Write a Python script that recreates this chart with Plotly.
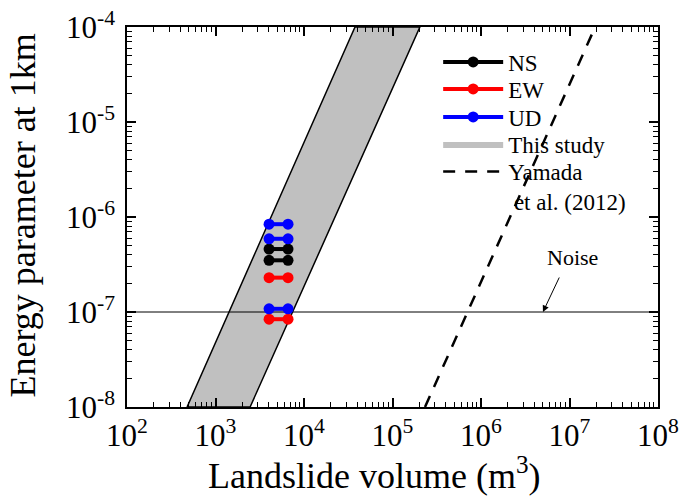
import plotly.graph_objects as go

# --- data ---
pair_x = [4030, 6600]
ns_values = [4.6e-7, 3.5e-7]
ew_values = [2.3e-7, 8.4e-8]
ud_values = [8.4e-7, 5.9e-7, 1.08e-7]

band_x = [477, 37700, 204000, 2460, 477]
band_y = [1e-8, 1e-4, 1e-4, 1e-8, 1e-8]

yamada_x = [2.33e5, 1.95e7]
yamada_y = [1e-8, 1e-4]

noise_level = 1e-7
x_range = [1e2, 1e8]

xtick_vals = [1e2, 1e3, 1e4, 1e5, 1e6, 1e7, 1e8]
xtick_text = ["10<sup>2</sup>", "10<sup>3</sup>", "10<sup>4</sup>", "10<sup>5</sup>",
              "10<sup>6</sup>", "10<sup>7</sup>", "10<sup>8</sup>"]
ytick_vals = [1e-8, 1e-7, 1e-6, 1e-5, 1e-4]
ytick_text = ["10<sup>-8</sup>", "10<sup>-7</sup>", "10<sup>-6</sup>", "10<sup>-5</sup>", "10<sup>-4</sup>"]

x_minor = [k * 10.0 ** e for e in range(2, 8) for k in range(2, 10)]
y_minor = [k * 10.0 ** e for e in range(-8, -4) for k in range(2, 10)]

FONT = "Liberation Serif, Times New Roman, serif"

fig = go.Figure()

# shaded band (This study)
fig.add_trace(go.Scatter(x=band_x, y=band_y, mode="lines", fill="toself",
                         fillcolor="#c0c0c0", line=dict(color="black", width=1.5),
                         name="This study", showlegend=False, hoverinfo="skip"))

# noise line
fig.add_trace(go.Scatter(x=x_range, y=[noise_level, noise_level], mode="lines",
                         line=dict(color="black", width=1), showlegend=False))

def add_pairs(values, color, name, legend_id):
    for i, v in enumerate(values):
        fig.add_trace(go.Scatter(x=pair_x, y=[v, v], mode="lines+markers",
                                 line=dict(color=color, width=4),
                                 marker=dict(color=color, size=11),
                                 name=name, legendgroup=name, legend=legend_id,
                                 showlegend=(i == 0)))

add_pairs(ns_values, "black", "NS", "legend")
add_pairs(ew_values, "red", "EW", "legend2")
add_pairs(ud_values, "blue", "UD", "legend3")

# legend entry for band
fig.add_trace(go.Scatter(x=[None], y=[None], mode="lines", fill="toself",
                         fillcolor="#c0c0c0", line=dict(color="#c0c0c0", width=0),
                         name="This study", legend="legend4"))

# Yamada et al. line
fig.add_trace(go.Scatter(x=yamada_x, y=yamada_y, mode="lines",
                         line=dict(color="black", width=2.5, dash="12px,10px"),
                         name="Yamada<br> et al. (2012)", legend="legend5"))

axis_common = dict(type="log", showline=True, linecolor="black", linewidth=1.5,
                   mirror="ticks", ticks="inside", ticklen=9, tickwidth=1.5,
                   tickcolor="black", showgrid=False, zeroline=False, automargin=False,
                   ticklabeloverflow="allow",
                   tickfont=dict(family=FONT, size=31, color="black"))

fig.update_xaxes(**axis_common, range=[2, 8], tickvals=xtick_vals, ticktext=xtick_text,
                 minor=dict(ticks="inside", ticklen=5, tickwidth=1.2, tickcolor="black",
                            showgrid=False, tickvals=x_minor))
fig.update_yaxes(**axis_common, range=[-8, -4], tickvals=ytick_vals, ticktext=ytick_text,
                 ticklabelstandoff=4,
                 minor=dict(ticks="inside", ticklen=5, tickwidth=1.2, tickcolor="black",
                            showgrid=False, tickvals=y_minor))

# axis titles
fig.add_annotation(x=0.467, y=-0.175, xref="paper", yref="paper", showarrow=False,
                   text="Landslide volume (m<sup>3</sup>)", xanchor="center", yanchor="middle",
                   font=dict(family=FONT, size=36, color="black"))
fig.add_annotation(x=-0.195, y=0.505, xref="paper", yref="paper", showarrow=False,
                   text="Energy parameter at 1km", textangle=-90,
                   xanchor="center", yanchor="middle",
                   font=dict(family=FONT, size=36, color="black"))

fig.add_annotation(x=6.70, y=-7.0, xref="x", yref="y", text="", showarrow=True,
                   ax=17, ay=-36, arrowhead=2, arrowsize=1.3, arrowwidth=1,
                   arrowcolor="black", standoff=0)
fig.add_annotation(x=7.03, y=-6.43, xref="x", yref="y", text="Noise", showarrow=False,
                   font=dict(family=FONT, size=22, color="black"))

PLOT_TOP, PLOT_BOTTOM = 27, 407
def leg(yc, valign="middle"):
    return dict(x=0.586, y=(PLOT_BOTTOM - yc) / (PLOT_BOTTOM - PLOT_TOP),
                xanchor="left", yanchor="middle", valign=valign,
                bgcolor="rgba(0,0,0,0)", borderwidth=0,
                font=dict(family=FONT, size=23, color="black"),
                tracegroupgap=0, itemwidth=60)

fig.update_layout(
    width=681, height=502,
    margin=dict(l=127, r=23, t=PLOT_TOP, b=502 - PLOT_BOTTOM),
    plot_bgcolor="white", paper_bgcolor="white",
    legend=leg(62), legend2=leg(89), legend3=leg(117), legend4=leg(144),
    legend5=leg(186.5, "top"),
    showlegend=True,
)

fig.write_html("out.html", config={"displayModeBar": False},
               post_script="document.body.style.margin='0px';")
